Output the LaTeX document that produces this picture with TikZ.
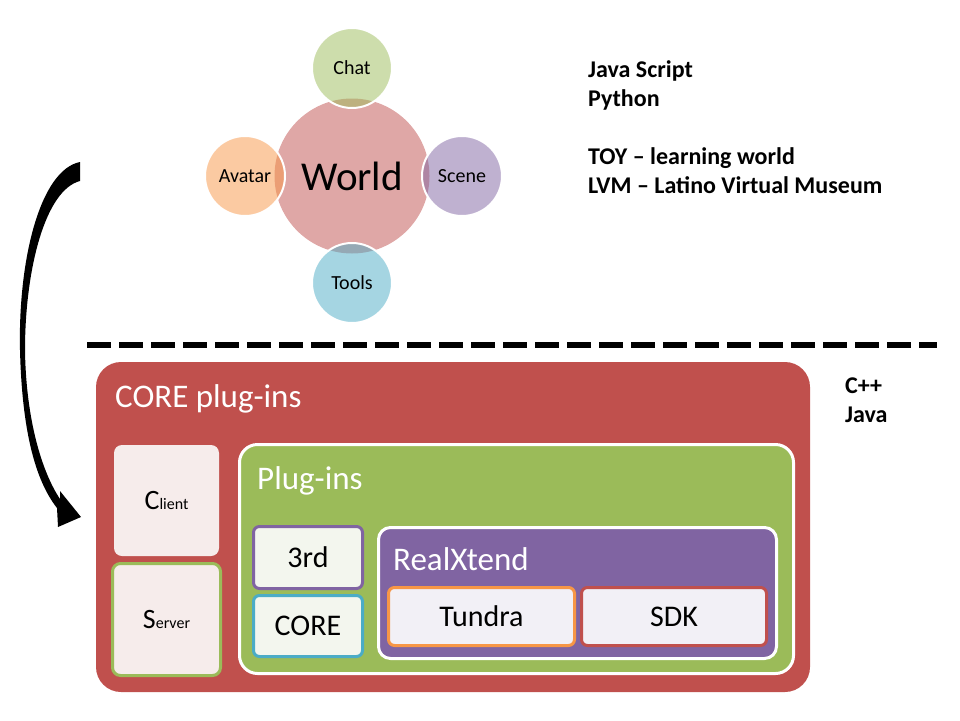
\documentclass[tikz,border=0pt]{standalone}
\usepackage{fontspec}
\setmainfont{Carlito}
\usepackage{tikz}

\definecolor{acred}{HTML}{C0504D}
\definecolor{acgreen}{HTML}{9BBB59}
\definecolor{acpurple}{HTML}{8064A2}
\definecolor{acblue}{HTML}{4BACC6}
\definecolor{acorange}{HTML}{F79646}
\definecolor{palered}{HTML}{F6ECEB}
\definecolor{palegreen}{HTML}{F3F6EE}
\definecolor{palepurple}{HTML}{F2F0F6}

\tikzset{
  bubble/.style={circle, draw=white, line width=2pt, fill opacity=0.5, text opacity=1,
    minimum size=80pt, inner sep=0pt, font=\fontsize{20}{24}\selectfont},
  box/.style={rectangle, rounded corners=6pt, line width=3pt, inner sep=0pt,
    font=\fontsize{30}{36}\selectfont},
  title/.style={anchor=base west, text=white, inner sep=0pt, font=\fontsize{33}{40}\selectfont},
  note/.style={anchor=base west, inner sep=0pt, font=\bfseries\fontsize{24}{29}\selectfont},
}

\begin{document}
\begin{tikzpicture}[x=1pt, y=-1pt]
    \useasboundingbox (0,0) rectangle (960,720);
    % Mundo e modulos
    \node[circle, fill=acred, fill opacity=0.5, text opacity=1, minimum size=155pt, inner sep=0pt,
      font=\fontsize{41}{49}\selectfont] (world) at (352,176) {World};
    \node[bubble, fill=acgreen] (chat) at (352,68) {Chat};
    \node[bubble, fill=acorange] (avatar) at (245,176) {Avatar};
    \node[bubble, fill=acpurple] (scene) at (462,176) {Scene};
    \node[bubble, fill=acblue] (tools) at (352,283) {Tools};
    % Linguagens
    \node[note] (js) at (588,77) {Java Script};
    \node[note] (py) at (588,106) {Python};
    \node[note] (toy) at (588,164) {TOY -- learning world};
    \node[note] (lvm) at (588,193) {LVM -- Latino Virtual Museum};
    \node[note] (cpp) at (845,393) {C++};
    \node[note] (java) at (845,422) {Java};
    % Separador
    \coordinate (sepl) at (87,345);
    \coordinate (sepr) at (937,345);
    \draw[line width=6pt, dash pattern=on 24pt off 8pt] (sepl) -- (sepr);
    % Seta curva
    \fill (80,162) .. controls (40,170) and (18,260) .. (20,350)
      .. controls (22,430) and (35,480) .. (57,508) -- (58,527) -- (81,517) -- (60,491) -- (60,499)
      .. controls (42,472) and (26,420) .. (25,350)
      .. controls (25,270) and (45,190) .. (80,181) -- cycle;
    % Caixa CORE plug-ins
    \node[box, rounded corners=25pt, fill=acred, minimum width=714pt, minimum height=330pt] (core) at (453,527) {};
    \node[title] (coretitle) at (115,407) {CORE plug-ins};
    \node[box, rounded corners=8pt, fill=palered, minimum width=105pt, minimum height=111pt] (client) at (166.5,500.5)
      {\fontsize{28}{33}\selectfont C\fontsize{16}{19}\selectfont lient};
    \node[box, rounded corners=8pt, draw=acgreen, fill=palered, minimum width=108pt, minimum height=112pt] (server) at (166.5,619.5)
      {\fontsize{28}{33}\selectfont S\fontsize{16}{19}\selectfont erver};
    % Caixa Plug-ins
    \node[box, rounded corners=18pt, draw=white, fill=acgreen, minimum width=554pt, minimum height=229pt] (plugins) at (516.5,559) {};
    \node[title] (plugtitle) at (257,489) {Plug-ins};
    \node[box, draw=acpurple, fill=palegreen, minimum width=109pt, minimum height=62pt] (third) at (308,557.5) {3rd};
    \node[box, draw=acblue, fill=palegreen, minimum width=109pt, minimum height=61pt] (coreplug) at (308,626) {CORE};
    % Caixa RealXtend
    \node[box, rounded corners=12pt, draw=white, fill=acpurple, minimum width=398pt, minimum height=131pt] (realx) at (577.5,593) {};
    \node[title] (realtitle) at (393,570) {RealXtend};
    \node[box, draw=acorange, fill=palepurple, minimum width=186pt, minimum height=58pt] (tundra) at (481.5,616.5) {Tundra};
    \node[box, draw=acred, fill=palepurple, minimum width=185pt, minimum height=58pt] (sdk) at (674,616.5) {SDK};
\end{tikzpicture}
\end{document}
